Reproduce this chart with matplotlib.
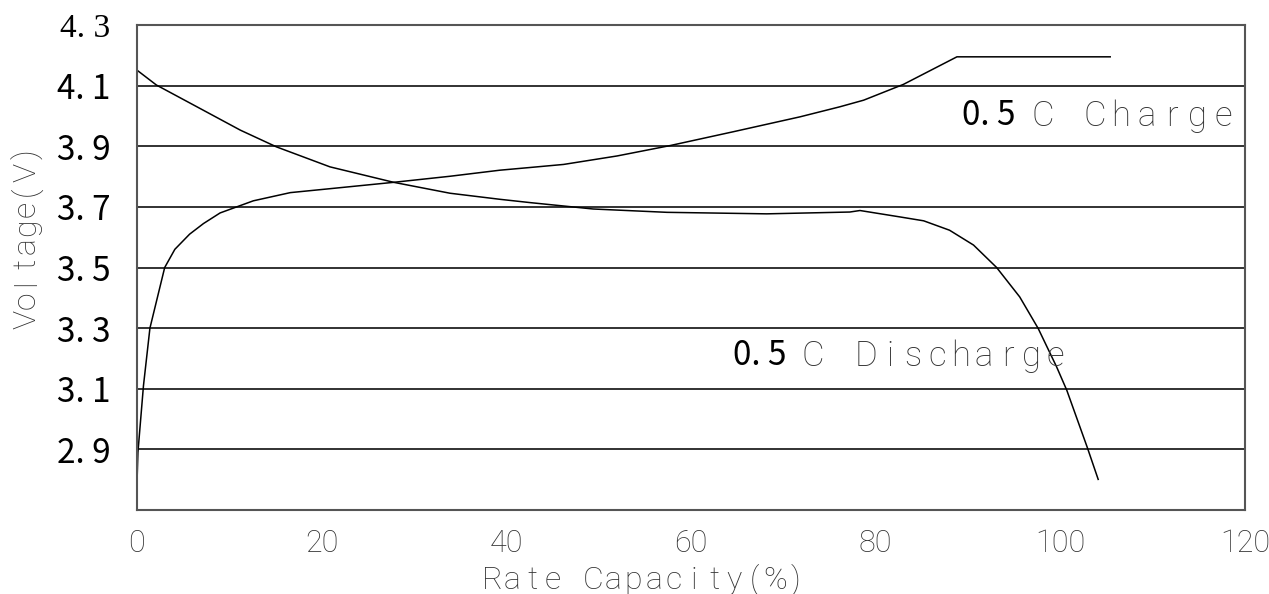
import matplotlib
matplotlib.use("Agg")
import matplotlib.pyplot as plt

# charge / discharge curves (x = % of rated capacity, y = volts)
chg_x = [0, 0.1, 0.7, 1.4, 3.0, 4.1, 5.7, 7.2, 9.0, 12.6, 16.6, 20.9, 27.8, 33.9,
         39.3, 42.6, 46.2, 52.0, 57.7, 64.6, 71.8, 76.1, 78.7, 83.0, 88.8, 105.4]
chg_y = [2.79, 2.89, 3.11, 3.30, 3.50, 3.56, 3.61, 3.645, 3.68, 3.72, 3.747, 3.76, 3.781, 3.801,
         3.821, 3.830, 3.840, 3.868, 3.902, 3.948, 3.997, 4.030, 4.052, 4.104, 4.195, 4.195]

dis_x = [0, 2.1, 6.5, 11.2, 15.1, 20.9, 27.8, 33.9, 39.3, 42.6, 49.4, 57.4, 68.2, 77.2,
         78.3, 82.6, 85.2, 88.0, 90.6, 93.1, 95.6, 97.6, 99.6, 100.7, 102.9, 104.1]
dis_y = [4.151, 4.102, 4.030, 3.953, 3.898, 3.832, 3.781, 3.745, 3.725, 3.714, 3.693, 3.682, 3.677, 3.683,
         3.688, 3.667, 3.654, 3.623, 3.574, 3.500, 3.403, 3.299, 3.172, 3.095, 2.908, 2.801]

y_ticks = [2.9, 3.1, 3.3, 3.5, 3.7, 3.9, 4.1, 4.3]
y_labels = ["2. 9", "3. 1", "3. 3", "3. 5", "3. 7", "3. 9", "4. 1", "4. 3"]
x_ticks = [0, 20, 40, 60, 80, 100, 120]
x_labels = ["0", "20", "40", "60", "80", "100", "120"]

W, H = 1269, 594
fig = plt.figure(figsize=(W / 100, H / 100), dpi=100)
ax = fig.add_axes([137 / W, 1 - 510 / H, (1245 - 137) / W, (510 - 25) / H])

ax.plot(chg_x, chg_y, color="black", lw=1.1)
ax.plot(dis_x, dis_y, color="black", lw=1.1)

ax.set_xlim(0, 120)
ax.set_ylim(2.7, 4.3)
ax.yaxis.grid(True, color="#222222", lw=1.3)
ax.set_axisbelow(True)
for sp in ax.spines.values():
    sp.set_color("#555555")
    sp.set_linewidth(1.5)

# "CAD" style thin text
CAD = dict(family="Roboto", weight="light", color="#333333")

ax.set_yticks(y_ticks)
ax.set_yticklabels(y_labels, family="Noto Sans CJK SC", fontsize=24, color="black")
ax.yaxis.get_ticklabels()[-1].set_family("Liberation Serif")
ax.set_xticks(x_ticks)
ax.set_xticklabels(x_labels, fontsize=22, **CAD)
ax.tick_params(axis="y", length=0, pad=19)
ax.tick_params(axis="x", length=0, pad=14)


def cad_text(px, py, s, pitch, size, vertical=False):
    # one glyph at a time so the wide letter spacing of the original can be kept
    for i, ch in enumerate(s):
        if ch == " ":
            continue
        if vertical:
            fig.text(px / W, 1 - (py - i * pitch) / H, ch, rotation=90, rotation_mode="anchor",
                     ha="center", va="baseline", fontsize=size, **CAD)
        else:
            fig.text((px + i * pitch) / W, 1 - py / H, ch, ha="center", va="baseline",
                     fontsize=size, **CAD)


cad_text(492, 589, "Rate Capacity(%)", 20.2, 23)
cad_text(35, 319, "Voltage(V)", 18.3, 23, vertical=True)

# curve labels
fig.text(962 / W, 1 - 125 / H, "0. 5", family="Noto Sans CJK SC", fontsize=24, color="black", va="baseline")
cad_text(1043, 126, "C", 25.6, 25)
cad_text(1095, 126, "Charge", 25.6, 25)

fig.text(733 / W, 1 - 365 / H, "0. 5", family="Noto Sans CJK SC", fontsize=24, color="black", va="baseline")
cad_text(813, 366, "C", 23.6, 25)
cad_text(866, 366, "Discharge", 23.6, 25)

fig.savefig("out.png", dpi=100)
